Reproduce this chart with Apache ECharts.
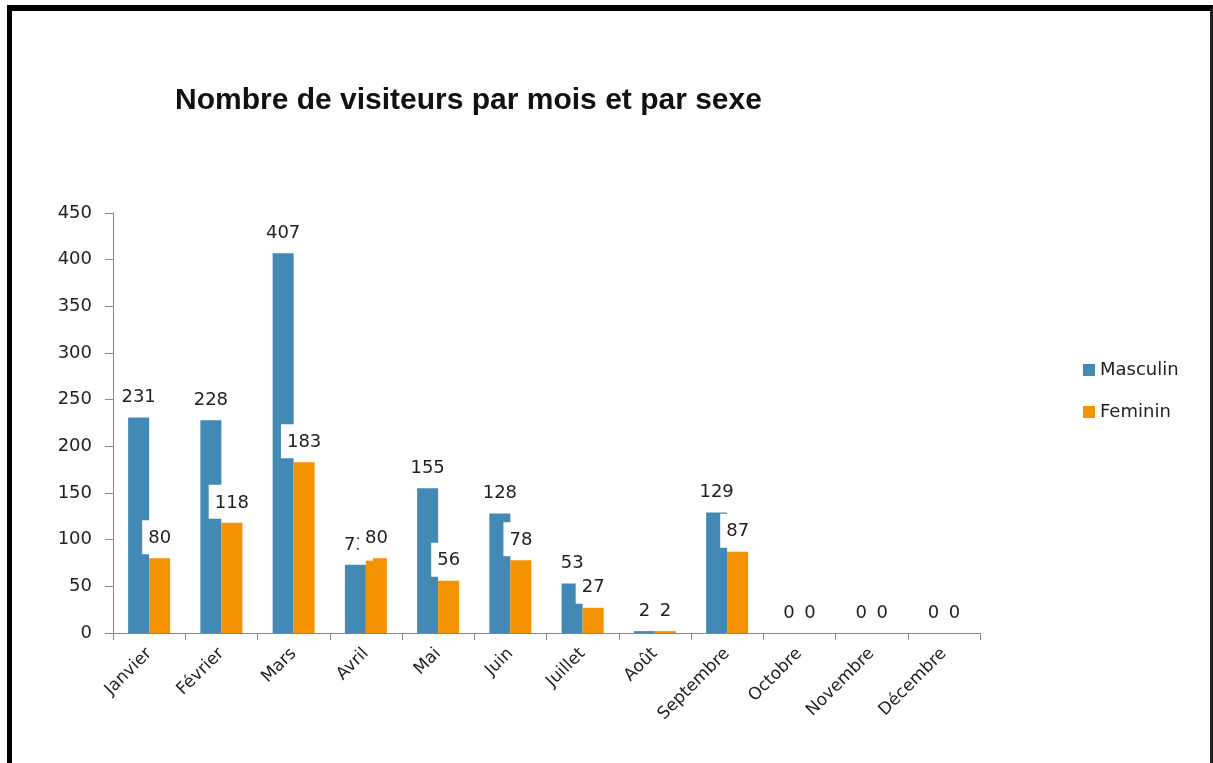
<!DOCTYPE html>
<html>
<head>
<meta charset="utf-8">
<script src="https://cdn.jsdelivr.net/npm/echarts@6/dist/echarts.min.js"></script>
<style>
  html, body { margin: 0; padding: 0; background: #fff; }
  #frame {
    position: absolute; left: 7px; top: 5px; width: 1206px; height: 758px;
    box-sizing: border-box;
    border-top: 6px solid #000; border-left: 5px solid #000; border-right: 3px solid #222;
  }
  #chart { position: absolute; left: 0; top: 0; width: 1213px; height: 763px; }
</style>
</head>
<body>
<div id="chart"></div>
<div id="frame"></div>
<script>
const months = ['Janvier', 'Février', 'Mars', 'Avril', 'Mai', 'Juin', 'Juillet', 'Août', 'Septembre', 'Octobre', 'Novembre', 'Décembre'];
const masculin = [231, 228, 407, 73, 155, 128, 53, 2, 129, 0, 0, 0];
const feminin = [80, 118, 183, 80, 56, 78, 27, 2, 87, 0, 0, 0];

// étiquettes façon Excel : fond blanc qui mord sur la barre voisine
const labelStyle = {
  show: true,
  position: 'top',
  distance: 4,
  color: '#222',
  fontFamily: 'DejaVu Sans',
  fontSize: 18,
  backgroundColor: '#fff',
  padding: [9, 6, 7, 6]
};

const chart = echarts.init(document.getElementById('chart'));

const option = {
  animation: false,
  title: {
    text: 'Nombre de visiteurs par mois et par sexe',
    left: 170,
    top: 81,
    textStyle: { fontFamily: 'Liberation Sans', fontWeight: 'bold', fontSize: 30, color: '#111' }
  },
  legend: {
    orient: 'vertical',
    left: 1078,
    top: 356,
    icon: 'rect',
    itemWidth: 12,
    itemHeight: 12,
    itemGap: 24,
    textStyle: { fontFamily: 'DejaVu Sans', fontSize: 18, color: '#222' },
    data: ['Masculin', 'Feminin']
  },
  grid: { left: 113, right: 233, top: 213, bottom: 130 },
  xAxis: {
    type: 'category',
    data: months,
    axisLine: { lineStyle: { color: '#888' } },
    axisTick: { show: true, length: 7, lineStyle: { color: '#888' } },
    axisLabel: {
      rotate: 45,
      margin: 18,
      color: '#222',
      fontFamily: 'DejaVu Sans',
      fontSize: 17
    }
  },
  yAxis: {
    type: 'value',
    min: 0,
    max: 450,
    interval: 50,
    splitLine: { show: false },
    axisLine: { show: true, lineStyle: { color: '#888' } },
    axisTick: { show: true, length: 8, lineStyle: { color: '#888' } },
    axisLabel: { color: '#222', fontFamily: 'DejaVu Sans', fontSize: 18, margin: 21 }
  },
  series: [
    {
      name: 'Masculin',
      type: 'bar',
      data: masculin,
      barWidth: 21,
      barGap: '0%',
      itemStyle: { color: '#4389b5' },
      label: labelStyle
    },
    {
      name: 'Feminin',
      type: 'bar',
      data: feminin,
      barWidth: 21,
      barGap: '0%',
      itemStyle: { color: '#f59200' },
      label: labelStyle
    }
  ]
};

chart.setOption(option);
</script>
</body>
</html>
